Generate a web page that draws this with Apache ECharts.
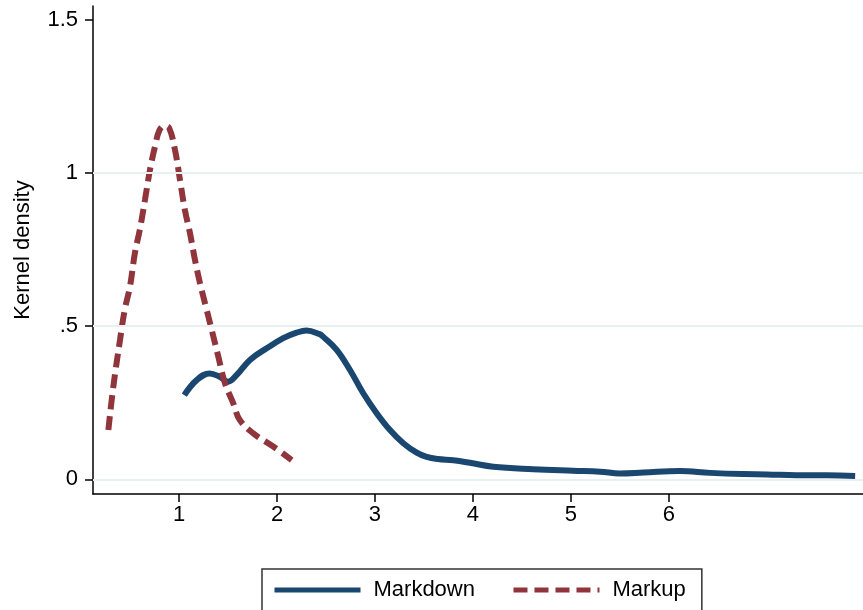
<!DOCTYPE html>
<html>
<head>
<meta charset="utf-8">
<title>Kernel density: Markdown vs Markup</title>
<script src="https://cdn.jsdelivr.net/npm/echarts@6/dist/echarts.min.js"></script>
<style>
  html, body { margin: 0; padding: 0; background: #ffffff; }
  #chart { width: 863px; height: 610px; }
</style>
</head>
<body>
<div id="chart"></div>
<script>
// Kernel density estimates (x, density)
const markdownX = [1.054, 1.18, 1.313, 1.415, 1.50, 1.589, 1.724, 1.895, 2.064, 2.20, 2.30, 2.436, 2.47, 2.609, 2.745, 2.88, 3.017, 3.153, 3.289, 3.426, 3.527, 3.64, 3.80, 3.969, 4.207, 4.615, 5.02, 5.296, 5.50, 5.74, 6.11, 6.42, 6.76, 7.0, 7.30, 7.61, 7.90];
const markdownY = [0.275, 0.324, 0.346, 0.335, 0.319, 0.341, 0.39, 0.428, 0.461, 0.479, 0.486, 0.474, 0.466, 0.423, 0.357, 0.281, 0.216, 0.161, 0.118, 0.087, 0.073, 0.066, 0.062, 0.054, 0.041, 0.033, 0.028, 0.025, 0.019, 0.022, 0.027, 0.021, 0.017, 0.016, 0.013, 0.013, 0.011];

const markupX = [0.279, 0.33, 0.398, 0.446, 0.5, 0.55, 0.60, 0.653, 0.704, 0.755, 0.80, 0.85, 0.90, 0.959, 1.01, 1.06, 1.112, 1.163, 1.214, 1.283, 1.334, 1.401, 1.469, 1.554, 1.62, 1.758, 1.962, 2.15];
const markupY = [0.161, 0.303, 0.455, 0.553, 0.63, 0.739, 0.815, 0.913, 1.011, 1.087, 1.14, 1.155, 1.147, 1.076, 0.978, 0.88, 0.804, 0.717, 0.641, 0.553, 0.488, 0.401, 0.314, 0.248, 0.194, 0.150, 0.107, 0.063];

const xTicks = [1, 2, 3, 4, 5, 6];
const yTicks = [0, 0.5, 1, 1.5];
const yTickLabels = ['0', '.5', '1', '1.5'];
const gridLevels = [0, 0.5, 1];
const seriesNames = ['Markdown', 'Markup'];

const FONT = 'Liberation Sans, Arial, sans-serif';
const NAVY = '#1a476f';
const MAROON = '#90353b';

const pairs = (xs, ys) => xs.map((x, i) => [x, ys[i]]);

const chart = echarts.init(document.getElementById('chart'), null, { renderer: 'canvas' });

chart.setOption({
  animation: false,
  backgroundColor: '#ffffff',
  grid: { left: 93, right: 0, top: 6, bottom: 116, containLabel: false },
  xAxis: {
    type: 'value',
    min: 0.1224,
    max: 7.98,
    axisLine: { show: true, onZero: false, lineStyle: { color: '#000', width: 1.5 } },
    axisTick: { show: true, length: 8, customValues: xTicks, lineStyle: { color: '#000', width: 1.5 } },
    axisLabel: { customValues: xTicks, color: '#000', fontFamily: FONT, fontSize: 22, margin: 10 },
    splitLine: { show: false }
  },
  yAxis: {
    type: 'value',
    min: -0.048,
    max: 1.546,
    name: 'Kernel density',
    nameLocation: 'middle',
    nameGap: 59,
    nameTextStyle: { color: '#000', fontFamily: FONT, fontSize: 22 },
    axisLine: { show: true, onZero: false, lineStyle: { color: '#000', width: 1.5 } },
    axisTick: { show: true, length: 8, customValues: yTicks, lineStyle: { color: '#000', width: 1.5 } },
    axisLabel: {
      customValues: yTicks,
      color: '#000',
      fontFamily: FONT,
      fontSize: 22,
      margin: 15,
      formatter: v => {
        const i = yTicks.findIndex(t => Math.abs(t - v) < 1e-9);
        return i >= 0 ? yTickLabels[i] : '';
      }
    },
    splitLine: { show: false }
  },
  legend: {
    data: seriesNames,
    left: 262,
    top: 569,
    orient: 'horizontal',
    padding: [10, 16, 20, 10],
    borderColor: '#333',
    borderWidth: 1.5,
    borderRadius: 0,
    itemWidth: 86,
    itemHeight: 22,
    itemGap: 36,
    itemStyle: { opacity: 0, borderWidth: 0 },
    lineStyle: { width: 5 },
    textStyle: { color: '#000', fontFamily: FONT, fontSize: 22, padding: [0, 0, 0, 8] }
  },
  series: [
    {
      type: 'line',
      data: [],
      silent: true,
      z: 1,
      markLine: {
        silent: true,
        symbol: ['none', 'none'],
        label: { show: false },
        lineStyle: { color: '#e8f0f2', width: 2, type: 'solid' },
        data: gridLevels.map(v => ({ yAxis: v }))
      }
    },
    {
      name: seriesNames[0],
      type: 'line',
      data: pairs(markdownX, markdownY),
      smooth: 0.4,
      showSymbol: false,
      symbol: 'none',
      z: 3,
      color: NAVY,
      lineStyle: { color: NAVY, width: 6, type: 'solid' }
    },
    {
      name: seriesNames[1],
      type: 'line',
      data: pairs(markupX, markupY),
      smooth: 0.4,
      showSymbol: false,
      symbol: 'none',
      z: 4,
      color: MAROON,
      lineStyle: { color: MAROON, width: 6, type: [14, 7], cap: 'butt' }
    }
  ]
});
</script>
</body>
</html>
